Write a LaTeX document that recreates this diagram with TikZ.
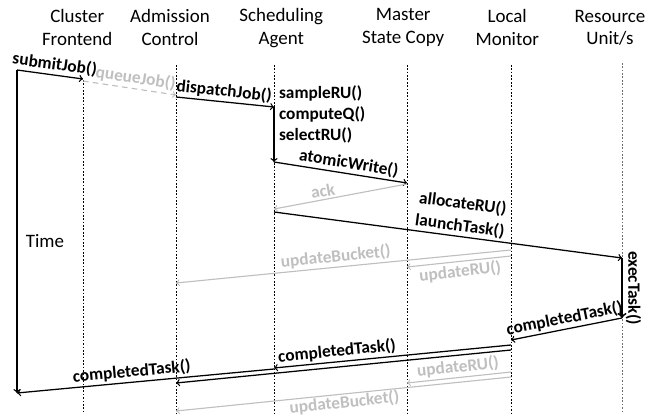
\documentclass[tikz,border=0pt]{standalone}
\usepackage{fontspec}
\setmainfont{Carlito}
\usetikzlibrary{arrows}
\definecolor{silver}{RGB}{191, 191, 191}
\definecolor{concrete}{RGB}{110, 110, 110}

\begin{document}
\begin{tikzpicture}[
        life/.style={line width=0.6pt, dash pattern=on 1.2pt off 1.2pt},
        msg/.style={->, >=to, black, line width=0.9pt},
        back/.style={->, >=to, silver, line width=0.8pt},
        hdr/.style={align=center, font=\fontsize{13.5}{16.3}\selectfont},
        lbl/.style={font=\bfseries\fontsize{12.3}{14.9}\selectfont, sloped, inner sep=1.5pt}]
            \useasboundingbox (0,0) rectangle (16.55,10.425);

            % heads of the lifelines
            \node[hdr] (h-front)  at ( 1.93, 9.73) {Cluster\\Frontend};
            \node[hdr] (h-adm)    at ( 4.25, 9.73) {Admission\\Control};
            \node[hdr] (h-sched)  at ( 7.03, 9.73) {Scheduling\\Agent};
            \node[hdr] (h-master) at (10.08, 9.73) {Master\\State Copy};
            \node[hdr] (h-local)  at (12.68, 9.73) {Local\\Monitor};
            \node[hdr] (h-ru)     at (15.25, 9.73) {Resource\\Unit/s};

            % lifelines
            \foreach \n/\x/\y/\c in {front/2.075/8.425/black, adm/4.40/8.80/black, sched/6.85/8.80/black,
                                    master/10.175/8.80/black, local/12.775/8.80/black, ru/15.55/8.85/concrete}{
                \coordinate (\n-top) at (\x, \y);
                \coordinate (\n-bot) at (\x, 0.10);
                \draw[life, \c] (\n-top) -- (\n-bot);
            }

            % message ends
            \coordinate (time-a)   at ( 0.425, 8.675);
            \coordinate (time-b)   at ( 0.425, 0.600);
            \coordinate (front-a)  at ( 2.075, 8.450);
            \coordinate (front-b)  at ( 2.075, 8.400);
            \coordinate (adm-a)    at ( 4.400, 8.050);
            \coordinate (adm-b)    at ( 4.400, 8.000);
            \coordinate (adm-c)    at ( 4.400, 0.850);
            \coordinate (adm-d)    at ( 4.400, 3.350);
            \coordinate (adm-e)    at ( 4.400, 0.150);
            \coordinate (sched-a)  at ( 6.850, 7.750);
            \coordinate (sched-b)  at ( 6.850, 6.375);
            \coordinate (sched-c)  at ( 6.850, 5.200);
            \coordinate (sched-d)  at ( 6.850, 5.125);
            \coordinate (sched-e)  at ( 6.850, 1.225);
            \coordinate (sched-f)  at ( 6.850, 1.200);
            \coordinate (master-a) at (10.175, 5.850);
            \coordinate (master-b) at (10.175, 5.825);
            \coordinate (master-c) at (10.175, 3.750);
            \coordinate (master-d) at (10.175, 0.850);
            \coordinate (local-a)  at (12.775, 1.925);
            \coordinate (local-b)  at (12.775, 1.800);
            \coordinate (local-c)  at (12.775, 1.675);
            \coordinate (local-d)  at (12.775, 4.175);
            \coordinate (local-e)  at (12.775, 4.025);
            \coordinate (local-f)  at (12.775, 1.125);
            \coordinate (local-g)  at (12.775, 1.000);
            \coordinate (ru-a)     at (15.550, 3.975);
            \coordinate (ru-b)     at (15.550, 2.475);

            % time axis
            \draw[msg] (time-a) -- (time-b);
            \node[anchor=west, font=\fontsize{13.5}{16}\selectfont] (time-lbl) at (0.52, 4.40) {Time};

            % job submission
            \draw[msg]  (time-a)  -- node[lbl, above, pos=0.55] (l-submit) {submitJob()} (front-a);
            \draw[back, dash pattern=on 4pt off 3pt]
                        (front-b) -- node[lbl, above, pos=0.55] (l-queue) {queueJob()} (adm-a);
            \draw[msg]  (adm-b)   -- node[lbl, above, pos=0.48] (l-dispatch) {dispatchJob()} (sched-a);
            \node[anchor=west, align=left, font=\bfseries\fontsize{12.3}{14.9}\selectfont, inner sep=0pt]
                        (sched-steps) at (6.97, 7.575) {sampleRU()\\computeQ()\\selectRU()};
            \draw[msg]  (sched-a) -- (sched-b);
            \draw[msg]  (sched-b) -- node[lbl, above, pos=0.55] (l-atomic) {atomicWrite()} (master-a);
            \draw[back] (master-b) -- node[lbl, above, pos=0.62] (l-ack) {ack} (sched-c);

            % launch and execution
            \draw[msg]  (sched-d) -- node[lbl, above, pos=0.53] (l-launch) {launchTask()}
                                     node[lbl, above=0.56cm, pos=0.53] (l-alloc) {allocateRU()} (ru-a);
            \draw[msg, line width=1.3pt] (ru-a) -- node[midway, anchor=south, rotate=-90, inner sep=2pt,
                        font=\bfseries\fontsize{12.3}{14.9}\selectfont] (l-exec) {execTask()} (ru-b);
            \draw[back] (local-d) -- node[lbl, above, pos=0.52] (l-bucket1) {updateBucket()} (adm-d);
            \draw[back] (local-e) -- node[lbl, below, midway] (l-ru1) {updateRU()} (master-c);

            % completion
            \draw[msg]  (ru-b)    -- node[lbl, above, midway] (l-done1) {completedTask()} (local-a);
            \draw[msg]  (local-b) -- node[lbl, above, pos=0.73] (l-done2) {completedTask()} (sched-e);
            \draw[msg]  (local-c) -- (adm-c);
            \draw[msg]  (sched-f) -- node[lbl, above, pos=0.55] (l-done3) {completedTask()} (time-b);
            \draw[back] (local-f) -- node[lbl, above, midway] (l-ru2) {updateRU()} (master-d);
            \draw[back] (local-g) -- node[lbl, below, pos=0.5, inner sep=0.3pt] (l-bucket2) {updateBucket()} (adm-e);
\end{tikzpicture}
\end{document}
